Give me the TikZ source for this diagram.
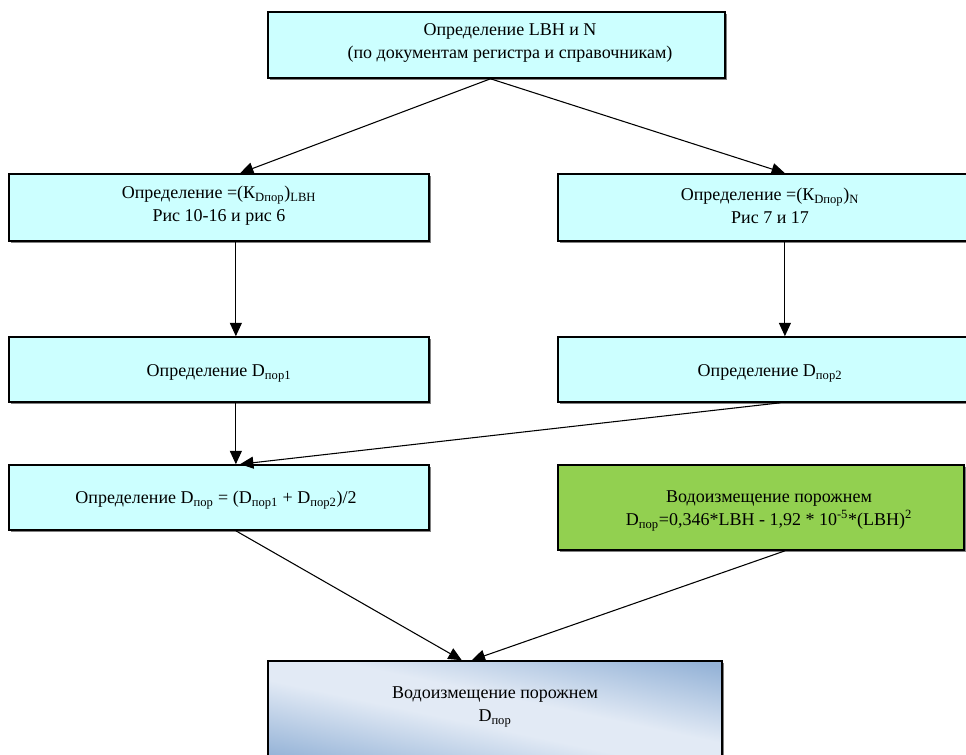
\documentclass[tikz,border=0pt]{standalone}
\usepackage{fontspec}
\setmainfont{Liberation Serif}
\usetikzlibrary{arrows.meta,calc,fit,shadows}
\definecolor{boxcyan}{HTML}{CCFFFF}
\definecolor{boxgreen}{HTML}{92D050}
\definecolor{resdark}{HTML}{95B3D7}
\definecolor{reslight}{HTML}{E2EAF5}
\pgfdeclarehorizontalshading{resshade}{100bp}{color(0bp)=(resdark); color(22bp)=(resdark); color(45bp)=(reslight); color(55bp)=(reslight); color(78bp)=(resdark); color(100bp)=(resdark)}

\begin{document}
\begin{tikzpicture}[x=0.75pt, y=-0.75pt,
        box/.style={draw, line width=1.2pt, inner sep=0pt, drop shadow={shadow xshift=1.5pt, shadow yshift=-1.5pt, fill=black!50, opacity=1}},
        txt/.style={align=center, inner sep=0pt, font=\fontsize{13.5}{17}\selectfont},
        arr/.style={-{Triangle[length=10pt, width=9pt]}, line width=0.8pt}]
        \useasboundingbox (0,0) rectangle (966,755);
        \clip (0,0) rectangle (966,755);
        \node (top) [box, fill=boxcyan, fit={(268,12) (725,78)}] {};
        \node (k1) [box, fill=boxcyan, fit={(9,174) (429,241)}] {};
        \node (k2) [box, fill=boxcyan, fit={(558,174) (982,241)}] {};
        \node (d1) [box, fill=boxcyan, fit={(9,337) (429,402)}] {};
        \node (d2) [box, fill=boxcyan, fit={(558,337) (982,402)}] {};
        \node (avg) [box, fill=boxcyan, fit={(9,465) (429,530)}] {};
        \node (emp) [box, fill=boxgreen, fit={(558,465) (964,550)}] {};
        \node (res) [box, shading=resshade, shading angle=78, fit={(268,661) (722,762)}] {};
        \node (topt) [txt] at (510,43) {Определение LBH и N\\(по документам регистра и справочникам)};
        \node (k1t) [txt] at (219,206) {Определение =(К\textsubscript{Dпор})\textsubscript{LBH}\\Рис 10-16 и рис 6};
        \node (k2t) [txt] at (770,206) {Определение =(К\textsubscript{Dпор})\textsubscript{N}\\Рис 7 и 17};
        \node (d1t) [txt] at (219,373) {Определение D\textsubscript{пор1}};
        \node (d2t) [txt] at (770,373) {Определение D\textsubscript{пор2}};
        \node (avgt) [txt] at (216,500) {Определение D\textsubscript{пор} = (D\textsubscript{пор1} + D\textsubscript{пор2})/2};
        \node (empt) [txt] at (769,511) {Водоизмещение порожнем\\D\textsubscript{пор}=0,346*LBH - 1,92 * 10\textsuperscript{-5}*(LBH)\textsuperscript{2}};
        \node (rest) [txt] at (495,707) {Водоизмещение порожнем\\D\textsubscript{пор}};
        \draw[arr] ($(top.south)+(-6,0)$) -- ($(k1.north west)!0.55!(k1.north east)$);
        \draw[arr] ($(top.south)+(-6,0)$) -- ($(k2.north west)!0.535!(k2.north east)$);
        \draw[arr] ($(k1.south west)!0.54!(k1.south east)$) -- ($(d1.north west)!0.54!(d1.north east)$);
        \draw[arr] ($(k2.south west)!0.535!(k2.south east)$) -- ($(d2.north west)!0.535!(d2.north east)$);
        \draw[arr] ($(d1.south west)!0.54!(d1.south east)$) -- ($(avg.north west)!0.54!(avg.north east)$);
        \draw[arr] ($(d2.south west)!0.524!(d2.south east)$) -- ($(avg.north west)!0.55!(avg.north east)$);
        \draw[arr] ($(avg.south west)!0.54!(avg.south east)$) -- ($(res.north west)!0.427!(res.north east)$);
        \draw[arr] ($(emp.south west)!0.559!(emp.south east)$) -- ($(res.north west)!0.449!(res.north east)$);
\end{tikzpicture}
\end{document}
